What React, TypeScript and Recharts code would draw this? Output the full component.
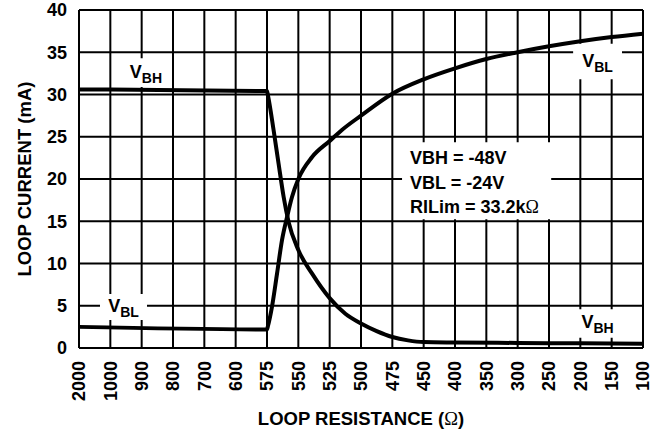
import { LineChart, Line, XAxis, YAxis, CartesianGrid, ReferenceArea } from "recharts";

const FONT = "'Liberation Sans', Arial, Helvetica, sans-serif";
const SERIF = "'Liberation Serif', 'Times New Roman', serif";

// resistance axis is categorical: position 0 = 2000Ω ... 18 = 100Ω
const resistanceLabels = ["2000", "1000", "900", "800", "700", "600", "575", "550", "525", "500", "475", "450", "400", "350", "300", "250", "200", "150", "100"];
const resistancePos = resistanceLabels.map((_, i) => i);
const currentTicks = [0, 5, 10, 15, 20, 25, 30, 35, 40];

// V_BH curve (position on resistance axis, loop current mA)
const vbhPos = [0, 6, 6.03, 6.21, 6.37, 6.53, 6.69, 7, 7.44, 8, 8.5, 9, 9.5, 10, 10.5, 11, 12, 14, 16, 18];
const vbhCurrent = [30.6, 30.4, 29.9, 25.8, 21.8, 17.9, 14.9, 11.6, 8.8, 5.9, 4.05, 2.9, 2.0, 1.3, 0.9, 0.7, 0.65, 0.6, 0.55, 0.5];

// V_BL curve
const vblPos = [0, 6, 6.03, 6.16, 6.32, 6.48, 6.64, 6.8, 7, 7.44, 8, 8.39, 9, 10, 11, 12, 13, 14, 15, 16, 17, 18];
const vblCurrent = [2.5, 2.2, 2.6, 4.9, 8.8, 12.8, 15.5, 17.9, 20.0, 22.6, 24.5, 25.8, 27.5, 30.1, 31.8, 33.1, 34.2, 35.0, 35.7, 36.3, 36.8, 37.2];

const conditions = ["VBH = -48V", "VBL = -24V", "RILim = 33.2k"];

const vbhData = vbhPos.map((x, i) => ({ x, y: vbhCurrent[i] }));
const vblData = vblPos.map((x, i) => ({ x, y: vblCurrent[i] }));

const XTick = ({ x, y, payload }: any) => (
  <text
    x={x}
    y={y + 13}
    dy="0.36em"
    transform={`rotate(-90, ${x}, ${y + 13})`}
    textAnchor="end"
    fontFamily={FONT}
    fontWeight="bold"
    fontSize={18}
    fill="#000"
  >
    {resistanceLabels[payload.value]}
  </text>
);

const YTick = ({ x, y, payload }: any) => (
  <text x={x - 12} y={y} dy="0.36em" textAnchor="end" fontFamily={FONT} fontWeight="bold" fontSize={18} fill="#000">
    {payload.value}
  </text>
);

const tag = (sub: string) => (props: any) => {
  const vb = props.viewBox;
  return (
    <text
      x={vb.x + vb.width / 2}
      y={vb.y + vb.height / 2 + 5}
      textAnchor="middle"
      fontFamily={FONT}
      fontWeight="bold"
      fontSize={18}
      fill="#000"
    >
      V<tspan dy={5} fontSize={14}>{sub}</tspan>
    </text>
  );
};

const ConditionsLabel = (props: any) => {
  const vb = props.viewBox;
  return (
    <g>
      {conditions.map((c, i) => (
        <text key={c} x={vb.x + 8} y={vb.y + 22 + i * 24.3} fontFamily={FONT} fontWeight="bold" fontSize={18} fill="#000">
          {c}
          {i === 2 && <tspan fontFamily={SERIF} fontWeight="normal">Ω</tspan>}
        </text>
      ))}
    </g>
  );
};

const YTitle = (props: any) => {
  const vb = props.viewBox;
  const x = vb.x + 24;
  const y = vb.y + vb.height / 2;
  return (
    <text x={x} y={y} dy="0.36em" transform={`rotate(-90, ${x}, ${y})`} textAnchor="middle" fontFamily={FONT} fontWeight="bold" fontSize={18.5} fill="#000">
      LOOP CURRENT (mA)
    </text>
  );
};

const XTitle = (props: any) => {
  const vb = props.viewBox;
  return (
    <text x={vb.x + vb.width / 2} y={vb.y + 77} textAnchor="middle" fontFamily={FONT} fontWeight="bold" fontSize={18.5} fill="#000">
      LOOP RESISTANCE (<tspan fontFamily={SERIF} fontWeight="normal">Ω</tspan>)
    </text>
  );
};

const App = () => (
  <div style={{ position: "absolute", left: 0, top: 0, width: 663, height: 431, background: "#fff" }}>
    <LineChart width={663} height={431} margin={{ top: 10, right: 20, bottom: 0, left: 0 }}>
      <CartesianGrid stroke="#000" strokeWidth={2} />
      <XAxis
        type="number"
        dataKey="x"
        domain={[0, 18]}
        ticks={resistancePos}
        interval={0}
        tick={<XTick />}
        tickLine={false}
        tickSize={0}
        tickMargin={0}
        axisLine={{ stroke: "#000", strokeWidth: 2 }}
        height={83}
        label={{ content: XTitle }}
      />
      <YAxis
        type="number"
        domain={[0, 40]}
        ticks={currentTicks}
        interval={0}
        tick={<YTick />}
        tickLine={false}
        tickSize={0}
        tickMargin={0}
        axisLine={{ stroke: "#000", strokeWidth: 2 }}
        width={79}
        label={{ content: YTitle }}
      />
      <ReferenceArea x1={1.37} x2={2.9} y1={30.9} y2={34.3} fill="#fff" fillOpacity={1} stroke="none" label={tag("BH")} />
      <ReferenceArea x1={15.77} x2={17.33} y1={31.8} y2={36.0} fill="#fff" fillOpacity={1} stroke="none" label={tag("BL")} />
      <ReferenceArea x1={0.67} x2={2.17} y1={3.3} y2={6.4} fill="#fff" fillOpacity={1} stroke="none" label={tag("BL")} />
      <ReferenceArea x1={15.77} x2={17.33} y1={1.2} y2={4.6} fill="#fff" fillOpacity={1} stroke="none" label={tag("BH")} />
      <ReferenceArea x1={10.31} x2={15.07} y1={15.25} y2={24.35} fill="#fff" fillOpacity={1} stroke="none" label={ConditionsLabel} />
      <Line data={vbhData} dataKey="y" type="monotone" stroke="#000" strokeWidth={4} dot={false} activeDot={false} isAnimationActive={false} />
      <Line data={vblData} dataKey="y" type="monotone" stroke="#000" strokeWidth={4} dot={false} activeDot={false} isAnimationActive={false} />
    </LineChart>
  </div>
);

export default App;
